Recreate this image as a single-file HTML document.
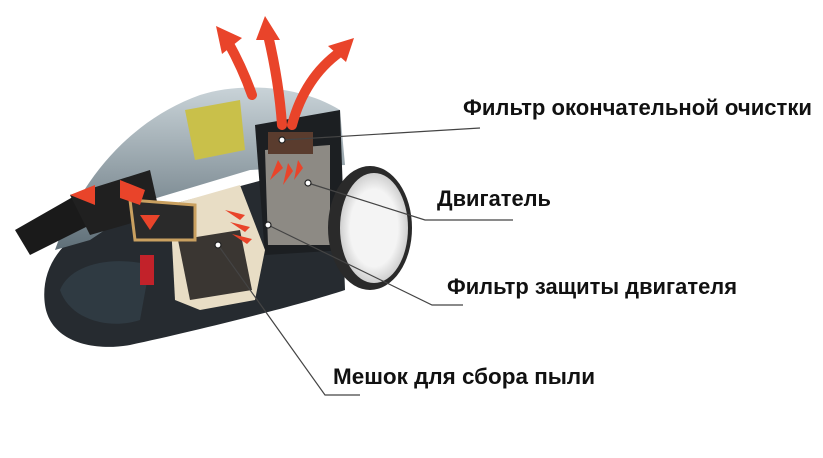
<!DOCTYPE html>
<html><head><meta charset="utf-8"><style>
html,body{margin:0;padding:0;background:#fff;width:823px;height:458px;overflow:hidden}
svg{position:absolute;left:0;top:0}
.t{font-family:"Liberation Sans Narrow","Liberation Sans",sans-serif;font-weight:bold;font-size:22px;fill:#111}
</style></head><body>
<svg width="823" height="458" viewBox="0 0 823 458">
<defs>
<linearGradient id="dome" x1="0" y1="0" x2="0" y2="1"><stop offset="0" stop-color="#c9d3d8"/><stop offset="1" stop-color="#5f6f78"/></linearGradient>
<radialGradient id="wh" cx="0.5" cy="0.5" r="0.5"><stop offset="0.7" stop-color="#f4f4f4"/><stop offset="1" stop-color="#cfcfcf"/></radialGradient>
</defs>
<path d="M45,305 C40,270 60,240 95,225 L300,170 L340,150 L345,290 C300,305 200,330 130,345 C90,352 50,340 45,305Z" fill="#262b30"/>
<path d="M55,250 C80,180 130,120 200,95 C240,82 300,85 340,110 L345,165 L250,170 L150,200 L90,240Z" fill="url(#dome)"/>
<path d="M60,290 C70,265 110,255 150,265 L140,320 C110,330 70,320 60,290Z" fill="#2f3a42"/>
<path d="M255,125 L340,110 L345,250 L265,255Z" fill="#1c1f22"/>
<path d="M265,150 L330,145 L330,245 L268,245Z" fill="#8d8a84"/>
<rect x="268" y="132" width="45" height="22" fill="#5a3c2e"/>
<path d="M185,110 L240,100 L245,150 L195,160Z" fill="#c9c04a"/>
<path d="M170,205 L240,185 L265,250 L255,300 L200,310 L175,300Z" fill="#e8ddc5"/>
<path d="M178,240 L240,230 L252,290 L190,300Z" fill="#3a3632"/>
<path d="M15,230 L85,190 L100,220 L30,255Z" fill="#1a1a1a"/>
<path d="M70,195 L150,170 L160,215 L90,235Z" fill="#202020"/>
<path d="M130,200 L195,205 L195,240 L135,240Z" fill="#2a2a2a" stroke="#c9a060" stroke-width="3"/>
<rect x="140" y="255" width="14" height="30" fill="#c2222a"/>
<ellipse cx="370" cy="228" rx="42" ry="62" fill="#2a2a2a"/>
<ellipse cx="374" cy="228" rx="34" ry="55" fill="url(#wh)"/>
<g fill="none" stroke="#e9442a" stroke-width="10" stroke-linecap="round">
<path d="M252,95 C245,75 238,60 228,42"/>
<path d="M282,125 C280,95 275,65 268,35"/>
<path d="M292,125 C300,95 315,70 340,52"/>
</g>
<g fill="#e9442a">
<polygon points="216,26 242,38 222,54"/>
<polygon points="265,16 280,40 256,40"/>
<polygon points="354,38 346,62 328,46"/>
<polygon points="70,195 95,185 95,205"/>
<polygon points="120,180 145,190 140,205 120,198"/>
<polygon points="140,215 160,215 150,230"/>
<path d="M225,210 l20,5 -5,5Z M230,222 l20,5 -5,5Z M232,234 l20,5 -5,5Z"/>
<path d="M270,180 l8,-20 5,8Z M283,185 l5,-22 5,8Z M294,180 l4,-20 5,8Z"/>
</g>
<g fill="none" stroke="#444" stroke-width="1.2">
<path d="M282,140 L480,128"/>
<path d="M308,183 L425,220 L513,220"/>
<path d="M268,225 L432,305 L463,305"/>
<path d="M218,245 L325,395 L360,395"/>
</g>
<g fill="#fff" stroke="#222" stroke-width="1.2">
<circle cx="282" cy="140" r="3"/><circle cx="308" cy="183" r="3"/><circle cx="268" cy="225" r="3"/><circle cx="218" cy="245" r="3"/>
</g>
<text class="t" x="463" y="115" textLength="349" lengthAdjust="spacingAndGlyphs">Фильтр окончательной очистки</text>
<text class="t" x="437" y="206" textLength="114" lengthAdjust="spacingAndGlyphs">Двигатель</text>
<text class="t" x="447" y="294" textLength="290" lengthAdjust="spacingAndGlyphs">Фильтр защиты двигателя</text>
<text class="t" x="333" y="384" textLength="262" lengthAdjust="spacingAndGlyphs">Мешок для сбора пыли</text>
</svg>
</body></html>
